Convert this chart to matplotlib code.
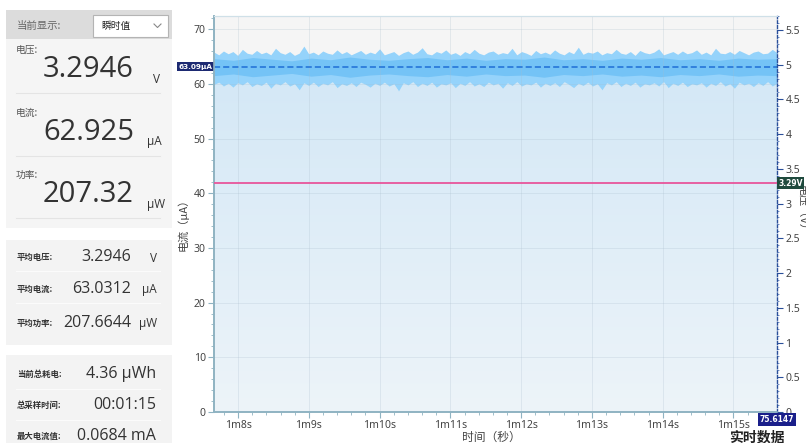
import numpy as np
import matplotlib.pyplot as plt
from matplotlib.patches import Rectangle
from matplotlib.ticker import MultipleLocator, FuncFormatter
from matplotlib.colors import LinearSegmentedColormap
from matplotlib.transforms import blended_transform_factory

CJK = ["Noto Sans CJK SC", "DejaVu Sans"]
NUM = ["Open Sans", "Noto Sans CJK SC", "DejaVu Sans"]

# ---------------------------------------------------------------------------
# data
# ---------------------------------------------------------------------------
t_start, t_end = 67.66, 75.6147          # seconds shown in the window
avg_current = 63.09                      # uA, running mean
voltage_now = 3.2946                     # V

# spiky outer envelope of the current trace (uA)
upper_env = [
    65.8, 65.3, 66.0, 65.5, 65.9, 65.2, 66.3, 65.6, 65.4, 66.1, 65.5, 65.8,
    65.3, 66.5, 65.7, 65.4, 65.9, 65.2, 65.6, 66.9, 65.5, 65.8, 65.3, 66.0,
    65.6, 65.4, 66.2, 65.5, 65.9, 65.3, 65.7, 66.1, 65.4, 65.8, 65.5, 66.4,
    65.3, 65.6, 65.9, 65.2, 65.7, 66.0, 65.4, 65.8, 66.6, 65.5, 65.3, 65.9,
    65.6, 66.2, 65.4, 65.7, 65.2, 65.9, 65.5, 66.3, 65.6, 65.3, 65.8, 66.0,
    65.4, 65.7, 65.5, 66.5, 65.3, 65.9, 65.6, 65.2, 66.1, 65.5, 65.8, 65.4,
    66.2, 65.6, 65.3, 65.9, 65.5, 66.7, 65.4, 65.8, 65.6, 66.0, 65.3, 65.7,
    65.5, 66.3, 65.6, 65.4, 65.9, 65.2, 66.1, 65.7, 65.5, 65.8, 66.4, 65.3,
    65.6, 65.9, 65.4, 66.0, 65.5, 65.7, 66.2, 65.4, 65.8, 65.3, 66.5, 65.6,
    65.5, 65.9, 65.4, 66.1, 65.7, 65.3, 65.8, 66.0, 65.5, 65.6, 66.3, 65.7,
]
lower_env = [
    59.9, 60.3, 59.6, 60.1, 59.4, 60.2, 59.8, 60.4, 59.5, 60.0, 59.7, 60.3,
    59.2, 60.1, 59.8, 60.4, 59.6, 60.0, 58.9, 60.2, 59.7, 60.3, 59.5, 60.1,
    59.8, 60.4, 59.3, 60.0, 59.7, 60.2, 59.5, 60.3, 59.9, 59.4, 60.1, 59.7,
    60.3, 59.6, 60.0, 58.7, 60.2, 59.8, 60.4, 59.5, 60.1, 59.7, 60.3, 59.4,
    60.0, 59.8, 60.2, 59.3, 60.1, 59.7, 60.4, 59.6, 60.0, 59.5, 60.3, 59.8,
    60.1, 59.2, 60.2, 59.7, 60.4, 59.6, 60.0, 59.8, 60.3, 59.4, 60.1, 59.7,
    60.2, 59.5, 60.4, 59.9, 59.3, 60.1, 59.7, 60.3, 59.6, 60.0, 58.9, 60.2,
    59.8, 60.4, 59.5, 60.1, 59.7, 60.3, 59.4, 60.0, 59.8, 60.2, 59.6, 60.4,
    59.3, 60.1, 59.7, 60.3, 59.5, 60.0, 59.8, 60.2, 59.4, 60.1, 59.7, 60.4,
    59.6, 60.0, 59.2, 60.3, 59.8, 60.1, 59.5, 60.2, 59.7, 60.4, 59.6, 60.1,
]
# dense core of the trace
core_hi = [64.6, 64.3, 64.8, 64.5, 64.2, 64.7, 64.4, 64.9, 64.5, 64.3,
           64.6, 64.8, 64.4, 64.7, 64.3, 64.6, 64.5, 64.9, 64.4, 64.6,
           64.3, 64.7, 64.5, 64.8, 64.4, 64.6, 64.3, 64.7, 64.5, 64.6]
core_lo = [61.5, 61.8, 61.3, 61.6, 61.9, 61.4, 61.7, 61.2, 61.6, 61.8,
           61.5, 61.3, 61.7, 61.4, 61.8, 61.5, 61.6, 61.2, 61.7, 61.5,
           61.8, 61.4, 61.6, 61.3, 61.7, 61.5, 61.8, 61.4, 61.6, 61.5]

# side panel readouts
big_labels = ["电压:", "电流:", "功率:"]
big_values = ["3.2946", "62.925", "207.32"]
big_units = ["V", "μA", "μW"]
avg_labels = ["平均电压:", "平均电流:", "平均功率:"]
avg_values = ["3.2946", "63.0312", "207.6644"]
avg_units = ["V", "μA", "μW"]
stat_labels = ["当前总耗电:", "总采样时间:", "最大电流值:"]
stat_values = ["4.36 μWh", "00:01:15", "0.0684 mA"]

# ---------------------------------------------------------------------------
# figure + side panel (pixel coordinates)
# ---------------------------------------------------------------------------
W, H = 806, 443
fig = plt.figure(figsize=(W / 100, H / 100), dpi=100)
fig.patch.set_facecolor("white")

ui = fig.add_axes([0, 0, 1, 1])
ui.set_xlim(0, W)
ui.set_ylim(H, 0)
ui.axis("off")

ui.add_patch(Rectangle((6, 10), 166, 218, color="#f5f5f5", lw=0))
ui.add_patch(Rectangle((6, 10), 166, 29, color="#dcdcdc", lw=0))
ui.add_patch(Rectangle((93, 15), 75, 22, facecolor="white", edgecolor="#b4b4b4", lw=0.8))
ui.text(17, 26, "当前显示:", family=CJK, fontsize=7.5, color="#666666", va="center")
ui.text(101, 26, "瞬时值", family=CJK, fontsize=7, color="#222222", va="center")
ui.plot([154, 157.5, 161], [24, 27.5, 24], color="#888888", lw=0.8)

for i in range(3):
    y0 = 50 + i * 62.5
    ui.text(16, y0, big_labels[i], family=CJK, fontsize=7, color="#555555", va="center")
    ui.text(43, y0 + 27, big_values[i], family=NUM, fontsize=21, color="#333333",
            va="baseline")
    ui.text(147 if i else 153, y0 + 33, big_units[i], family=NUM, fontsize=8.5,
            color="#333333", va="baseline")
    ui.plot([16, 160], [y0 + 43, y0 + 43], color="#e4e4e4", lw=0.8)

ui.add_patch(Rectangle((6, 240), 166, 105, color="#f3f3f3", lw=0))
for i, y0 in enumerate([257, 289, 323]):
    ui.text(17, y0, avg_labels[i], family=CJK, fontsize=6, color="#333333",
            va="center", weight="bold")
    ui.text(131, y0, avg_values[i], family=NUM, fontsize=11.5, color="#333333",
            va="center", ha="right")
    ui.text(157, y0 + 1, avg_units[i], family=NUM, fontsize=8.5, color="#333333",
            va="center", ha="right")
    if i < 2:
        ui.plot([16, 160], [y0 + 14, y0 + 14], color="#fbfbfb", lw=0.8)

ui.add_patch(Rectangle((6, 355), 166, 100, color="#f3f3f3", lw=0))
for i, y0 in enumerate([374, 405, 436]):
    ui.text(17, y0, stat_labels[i], family=CJK, fontsize=6, color="#333333",
            va="center", weight="bold")
    ui.text(156, y0, stat_values[i], family=NUM, fontsize=11.5, color="#333333",
            va="center", ha="right")
    if i < 2:
        ui.plot([16, 160], [y0 + 15, y0 + 15], color="#fbfbfb", lw=0.8)

# ---------------------------------------------------------------------------
# current / voltage chart
# ---------------------------------------------------------------------------
ax = fig.add_axes([214 / W, 1 - 412 / H, (777 - 214) / W, (412 - 16) / H])
ax.set_facecolor("#f5f5f5")
ax2 = ax.twinx()

t_env = np.linspace(t_start, t_end, len(upper_env))
t_core = np.linspace(t_start, t_end, len(core_hi))

base = ax.fill_between(t_env, 0, lower_env, color="none", lw=0)
grad = np.linspace(0, 1, 256).reshape(-1, 1)
cmap = LinearSegmentedColormap.from_list("fill", ["#edf4f9", "#d2e7f6"])
im = ax.imshow(grad, extent=[t_start, t_end, 0, max(upper_env)], origin="lower",
               aspect="auto", cmap=cmap, zorder=1)
im.set_clip_path(base.get_paths()[0], ax.transData)
ax.fill_between(t_env, lower_env, upper_env, color="#95d3fb", lw=0, zorder=1.5)
ax.fill_between(t_core, core_lo, core_hi, color="#74c3f6", lw=0, zorder=1.6)
ax.axhline(avg_current, color="#1f6fd6", lw=1.1, ls=(0, (4, 2)), zorder=4)

ax2.axhline(voltage_now, color="#e8559a", lw=1.3, zorder=5)

ax.set_xlim(t_start, t_end)
ax.set_ylim(0, 72.4)
ax2.set_ylim(0, 5.70)

ax.set_axisbelow(False)
ax.grid(True, which="major", color="#a9bccb", lw=0.7, alpha=0.25)

ax.xaxis.set_major_locator(MultipleLocator(1))
ax.xaxis.set_minor_locator(MultipleLocator(0.2))
ax.xaxis.set_major_formatter(FuncFormatter(lambda v, p: f"1m{int(round(v)) - 60}s"))
ax.yaxis.set_major_locator(MultipleLocator(10))
ax.yaxis.set_minor_locator(MultipleLocator(2))
ax2.yaxis.set_major_locator(MultipleLocator(0.5))
ax2.yaxis.set_minor_locator(MultipleLocator(0.1))
ax2.yaxis.set_major_formatter(FuncFormatter(lambda v, p: f"{v:g}"))

axis_col = "#8fb3c2"
for a in (ax, ax2):
    a.tick_params(which="major", length=4, width=0.8, color=axis_col,
                  labelsize=7.5, labelcolor="#444444", pad=2)
    a.tick_params(which="minor", length=2, width=0.6, color=axis_col)
    for lab in a.get_xticklabels() + a.get_yticklabels():
        lab.set_family(["Noto Sans", "DejaVu Sans"])
ax2.tick_params(which="major", color="#2a4f9a")
ax2.tick_params(which="minor", color="#5a7fbf", length=1.5)

for a in (ax, ax2):
    a.spines["left"].set_color(axis_col)
    a.spines["left"].set_linewidth(1.2)
    a.spines["bottom"].set_color(axis_col)
    a.spines["bottom"].set_linewidth(1.2)
    a.spines["top"].set_color("#cfe0e8")
    a.spines["top"].set_linewidth(0.8)
ax.spines["right"].set_visible(False)
ax2.spines["right"].set_color("#2a4f9a")
ax2.spines["right"].set_linestyle((0, (2, 1.5)))
ax2.spines["right"].set_linewidth(1.0)

# value badges on the axes
badge = dict(boxstyle="square,pad=0.2", ec="none")
ax.text(-0.002, avg_current, f"{avg_current:.2f}μA", ha="right", va="center",
        transform=blended_transform_factory(ax.transAxes, ax.transData),
        fontsize=5.2, color="white", weight="bold", family=["DejaVu Sans"],
        bbox=dict(badge, fc="#1d2a72"), clip_on=False, zorder=6)
ax2.text(1.002, voltage_now, f"{voltage_now:.2f}V", ha="left", va="center",
         transform=blended_transform_factory(ax2.transAxes, ax2.transData),
         fontsize=5.5, color="white", weight="bold", family=["DejaVu Sans"],
         bbox=dict(badge, fc="#1f4a3d"), clip_on=False, zorder=6)
ax2.text(t_end, -0.019, f"{t_end:.4f}", ha="center", va="center",
         transform=blended_transform_factory(ax2.transData, ax2.transAxes),
         fontsize=5.5, color="white", weight="bold", family=["DejaVu Sans"],
         bbox=dict(badge, fc="#1a1f8a"), clip_on=False, zorder=6)

# axis titles
ui.text(183, 222, "电流（μA）", family=CJK, fontsize=8, color="#444444",
        rotation=90, ha="center", va="center")
ui.text(802, 210, "电压（V）", family=CJK, fontsize=8, color="#444444",
        rotation=270, ha="center", va="center", clip_on=False)
ui.text(491, 437, "时间（秒）", family=CJK, fontsize=8.5, color="#444444",
        ha="center", va="center")
ui.text(757, 437, "实时数据", family=CJK, fontsize=10, color="#222222",
        ha="center", va="center", weight="bold")

fig.savefig("out.png", dpi=100)
